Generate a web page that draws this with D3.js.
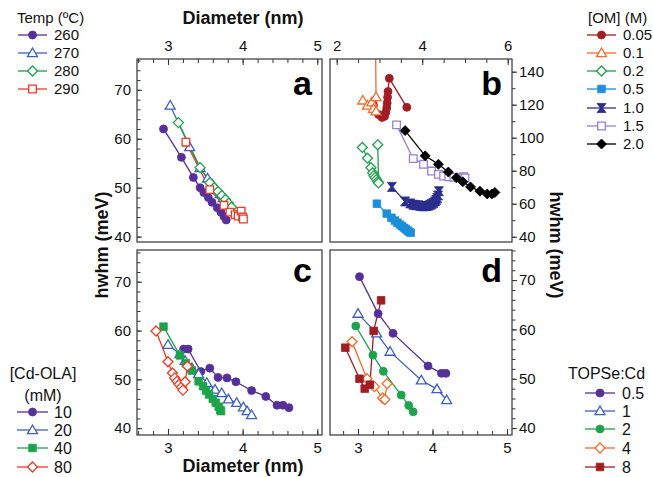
<!DOCTYPE html>
<html>
<head>
<meta charset="utf-8">
<script src="https://cdn.jsdelivr.net/npm/d3@7"></script>
<style>
  body { margin: 0; background: #fff; }
  svg { font-family: "Liberation Sans", Arial, Helvetica, sans-serif; }
</style>
</head>
<body>
<div id="chart"></div>
<script>
// ---------------------------------------------------------------------------
// Data: [diameter (nm), hwhm (meV)]
// ---------------------------------------------------------------------------
// Panel a - reaction temperature
const tempLabels = ['260', '270', '280', '290'];
const a260 = [[2.94,62.0],[3.18,56.2],[3.34,52.1],[3.43,50.0],[3.48,49.0],[3.54,48.0],[3.59,47.0],[3.66,45.9],[3.71,45.0],[3.75,44.1],[3.78,43.4]];
const a270 = [[3.03,66.8],[3.29,58.3],[3.43,54.0],[3.53,51.9],[3.59,50.7],[3.65,49.6],[3.70,48.7],[3.74,47.9],[3.79,47.1],[3.83,46.4]];
const a280 = [[3.14,63.3],[3.43,54.1],[3.56,51.0],[3.62,50.0],[3.67,49.2],[3.72,48.4],[3.77,47.6],[3.81,46.8],[3.85,46.0]];
const a290 = [[3.24,59.3],[3.56,49.6],[3.75,46.4],[3.83,45.0],[3.90,44.5],[3.94,44.2],[3.98,45.2],[4.00,44.0],[4.01,43.6]];

// Panel b - [OM] concentration (M)
const omLabels = ['0.05', '0.1', '0.2', '0.5', '1.0', '1.5', '2.0'];
const b005 = [[2.86,119.6],[2.98,114.0],[3.06,112.3],[3.12,113.0],[3.15,115.5],[3.17,118.0],[3.18,121.0],[3.19,124.5],[3.20,128.0],[3.23,136.0],[3.64,118.4]];
const b01 = [[2.61,122.6],[2.72,119.5],[2.82,121.5],[2.86,117.5],[2.92,116.0],[2.92,124.7],[2.91,152.0]];
const b02 = [[2.60,94.1],[2.72,87.6],[2.80,81.8],[2.84,78.8],[2.87,77.0],[2.90,75.8],[2.93,74.6],[2.96,73.4],[2.98,72.6],[2.96,95.7]];
const b05 = [[2.94,60.0],[3.17,54.0],[3.28,51.5],[3.36,49.8],[3.42,48.5],[3.48,47.3],[3.53,46.3],[3.58,45.3],[3.62,44.5],[3.66,43.7],[3.70,43.0],[3.73,42.4]];
const b10 = [[3.29,70.2],[3.60,61.4],[3.72,60.2],[3.79,59.4],[3.85,59.1],[3.91,59.0],[3.97,58.6],[4.03,58.4],[4.09,58.6],[4.14,58.8],[4.19,59.3],[4.22,59.8],[4.26,60.5],[4.30,61.4],[4.33,62.3],[4.35,63.4],[4.37,65.0],[4.39,67.6]];
const b15 = [[3.40,107.8],[3.79,87.3],[4.03,83.9],[4.22,79.8],[4.38,77.8],[4.50,76.8],[4.62,76.3],[4.74,76.0],[4.86,75.9],[4.97,76.3],[5.00,75.6]];
const b20 = [[3.60,104.3],[4.07,89.0],[4.38,83.9],[4.61,79.2],[4.80,75.7],[4.95,73.3],[5.13,70.2],[5.35,67.6],[5.52,65.9],[5.63,65.9],[5.70,66.8]];

// Panel c - [Cd-OLA] (mM)
const cdLabels = ['10', '20', '40', '80'];
const c10 = [[3.21,56.2],[3.27,56.2],[3.44,51.6],[3.56,52.3],[3.67,50.4],[3.79,50.3],[3.91,49.5],[4.12,47.7],[4.31,46.5],[4.46,44.7],[4.54,44.7],[4.62,44.2]];
const c20 = [[3.00,57.1],[3.16,55.2],[3.23,53.8],[3.32,52.3],[3.41,51.1],[3.52,49.3],[3.63,47.9],[3.72,47.2],[3.81,45.9],[3.92,45.2],[4.01,44.3],[4.06,43.5],[4.12,42.7]];
const c40 = [[2.94,60.8],[3.16,54.9],[3.24,53.3],[3.32,51.8],[3.41,49.6],[3.47,48.6],[3.51,47.7],[3.55,46.9],[3.60,46.0],[3.64,45.2],[3.68,44.4],[3.70,43.7],[3.71,43.5]];
const c80 = [[2.84,59.9],[3.00,53.6],[3.06,51.3],[3.09,50.3],[3.12,49.6],[3.15,49.0],[3.18,48.4],[3.20,47.8],[3.23,49.5],[3.26,52.7]];

// Panel d - TOPSe:Cd ratio
const seLabels = ['0.5', '1', '2', '4', '8'];
const d05 = [[3.02,70.7],[3.27,63.2],[3.47,59.2],[3.94,52.6],[4.12,51.1],[4.18,51.1]];
const d1 = [[3.00,63.2],[3.25,59.2],[3.43,55.5],[3.85,49.7],[4.06,47.9],[4.19,45.7]];
const d2 = [[2.97,60.7],[3.20,54.8],[3.34,51.5],[3.58,46.7],[3.68,44.6],[3.74,43.3]];
const d4 = [[2.92,57.5],[3.12,50.0],[3.22,48.4],[3.33,46.1],[3.36,45.8],[3.39,49.0]];
const d8 = [[2.83,56.3],[3.02,50.0],[3.09,48.0],[3.16,48.8],[3.21,59.7],[3.31,65.9]];

// ---------------------------------------------------------------------------
// Styles
// ---------------------------------------------------------------------------
const C = {
  purple: '#55309b', blue: '#3e5fc1', green: '#1da34b', red: '#ef3a25',
  darkred: '#a21d23', orange: '#f36b2a', lightblue: '#1b8fdb', navy: '#2b2e8e',
  lavender: '#9a80d0', black: '#000000'
};

const groups = {
  a: [
    { label: tempLabels[0], data: a260, color: C.purple, shape: 'circle', filled: true },
    { label: tempLabels[1], data: a270, color: C.blue, shape: 'triangle', filled: false },
    { label: tempLabels[2], data: a280, color: C.green, shape: 'diamond', filled: false },
    { label: tempLabels[3], data: a290, color: C.red, shape: 'square', filled: false }
  ],
  b: [
    { label: omLabels[0], data: b005, color: C.darkred, shape: 'circle', filled: true },
    { label: omLabels[1], data: b01, color: C.orange, shape: 'triangle', filled: false },
    { label: omLabels[2], data: b02, color: C.green, shape: 'diamond', filled: false },
    { label: omLabels[3], data: b05, color: C.lightblue, shape: 'square', filled: true },
    { label: omLabels[4], data: b10, color: C.navy, shape: 'hourglass', filled: true },
    { label: omLabels[5], data: b15, color: C.lavender, shape: 'square', filled: false },
    { label: omLabels[6], data: b20, color: C.black, shape: 'diamond', filled: true }
  ],
  c: [
    { label: cdLabels[0], data: c10, color: C.purple, shape: 'circle', filled: true },
    { label: cdLabels[1], data: c20, color: C.blue, shape: 'triangle', filled: false },
    { label: cdLabels[2], data: c40, color: C.green, shape: 'square', filled: true },
    { label: cdLabels[3], data: c80, color: C.red, shape: 'diamond', filled: false }
  ],
  d: [
    { label: seLabels[0], data: d05, color: C.purple, shape: 'circle', filled: true },
    { label: seLabels[1], data: d1, color: C.blue, shape: 'triangle', filled: false },
    { label: seLabels[2], data: d2, color: C.green, shape: 'circle', filled: true },
    { label: seLabels[3], data: d4, color: C.orange, shape: 'diamond', filled: false },
    { label: seLabels[4], data: d8, color: C.darkred, shape: 'square', filled: true }
  ]
};

// panel boxes (pixels), domains and which sides carry axes
const panels = [
  { id: 'a', box: [137, 322, 59, 242], x: [2.585, 5.063], y: [38.9, 76.3], xSide: 'top', ySide: 'left',
    xMajor: [3, 4, 5], xMinorStep: 0.2, yMajor: [40, 50, 60, 70], yMinorStep: 2 },
  { id: 'b', box: [330, 512, 59, 242], x: [1.843, 6.1], y: [36.8, 147.7], xSide: 'top', ySide: 'right',
    xMajor: [2, 4, 6], xMinorStep: 0.5, yMajor: [40, 60, 80, 100, 120, 140], yMinorStep: 10 },
  { id: 'c', box: [137, 322, 250, 435], x: [2.585, 5.063], y: [38.6, 76.5], xSide: 'bottom', ySide: 'left',
    xMajor: [3, 4, 5], xMinorStep: 0.2, yMajor: [40, 50, 60, 70], yMinorStep: 2 },
  { id: 'd', box: [330, 512, 250, 435], x: [2.624, 5.067], y: [38.6, 76.1], xSide: 'bottom', ySide: 'right',
    xMajor: [3, 4, 5], xMinorStep: 0.2, yMajor: [40, 50, 60, 70], yMinorStep: 2 }
];

function markerPath(shape) {
  switch (shape) {
    case 'circle': { const r = 4; return `M${r},0A${r},${r} 0 1,1 ${-r},0A${r},${r} 0 1,1 ${r},0Z`; }
    case 'triangle': return 'M0,-5L5,3.6L-5,3.6Z';
    case 'square': return 'M-3.8,-3.8H3.8V3.8H-3.8Z';
    case 'diamond': return 'M0,-5L5,0L0,5L-5,0Z';
    case 'hourglass': return 'M-4.5,-4.5H4.5L1,0L4.5,4.5H-4.5L-1,0Z';
  }
}

// ---------------------------------------------------------------------------
// Drawing
// ---------------------------------------------------------------------------
const W = 653, H = 477;
const svg = d3.select('#chart').append('svg').attr('width', W).attr('height', H);
const defs = svg.append('defs');

function minorTicks(domain, step) {
  const lo = Math.ceil(domain[0] / step - 1e-6), hi = Math.floor(domain[1] / step + 1e-6);
  return d3.range(lo, hi + 1).map(i => +(i * step).toFixed(3));
}

panels.forEach(p => {
  const [x0, x1, y0, y1] = p.box;
  const x = d3.scaleLinear().domain(p.x).range([x0, x1]);
  const y = d3.scaleLinear().domain(p.y).range([y1, y0]);
  const g = svg.append('g');

  // x axis (inward ticks)
  const xAxisFn = p.xSide === 'top' ? d3.axisTop : d3.axisBottom;
  const xPos = p.xSide === 'top' ? y0 : y1;
  const gxMinor = g.append('g').attr('transform', `translate(0,${xPos})`)
    .call(xAxisFn(x).tickValues(minorTicks(p.x, p.xMinorStep)).tickSize(-4).tickFormat(''));
  const gx = g.append('g').attr('transform', `translate(0,${xPos})`)
    .call(xAxisFn(x).tickValues(p.xMajor).tickSize(-6).tickPadding(p.xSide === 'top' ? 8 : 7).tickFormat(d3.format('d')));

  // y axis: left axes inward, right axes outward
  let gy, gyMinor;
  if (p.ySide === 'left') {
    gyMinor = g.append('g').attr('transform', `translate(${x0},0)`)
      .call(d3.axisLeft(y).tickValues(minorTicks(p.y, p.yMinorStep)).tickSize(-3.5).tickFormat(''));
    gy = g.append('g').attr('transform', `translate(${x0},0)`)
      .call(d3.axisLeft(y).tickValues(p.yMajor).tickSize(-5).tickPadding(6));
  } else {
    gyMinor = g.append('g').attr('transform', `translate(${x1},0)`)
      .call(d3.axisRight(y).tickValues(minorTicks(p.y, p.yMinorStep)).tickSize(3.5).tickFormat(''));
    gy = g.append('g').attr('transform', `translate(${x1},0)`)
      .call(d3.axisRight(y).tickValues(p.yMajor).tickSize(5).tickPadding(2));
  }
  [gx, gxMinor, gy, gyMinor].forEach(a => {
    a.select('.domain').remove();
    a.selectAll('line').attr('stroke', '#333').attr('stroke-width', 1);
    a.selectAll('text').attr('fill', '#111').style('font-size', '15px')
      .style('font-family', '"Liberation Sans", Arial, sans-serif');
  });

  // clip region for data
  defs.append('clipPath').attr('id', 'clip-' + p.id)
    .append('rect').attr('x', x0).attr('y', y0).attr('width', x1 - x0).attr('height', y1 - y0);

  const plot = g.append('g').attr('clip-path', `url(#clip-${p.id})`);
  const line = d3.line().x(d => x(d[0])).y(d => y(d[1]));

  groups[p.id].forEach(s => {
    plot.append('path').datum(s.data)
      .attr('fill', 'none').attr('stroke', s.color).attr('stroke-width', 1.3).attr('d', line);
  });
  groups[p.id].forEach(s => {
    plot.selectAll(null).data(s.data).enter().append('path')
      .attr('transform', d => `translate(${x(d[0])},${y(d[1])})`)
      .attr('d', markerPath(s.shape))
      .attr('fill', s.filled ? s.color : '#fff')
      .attr('stroke', s.color).attr('stroke-width', s.filled ? 0.8 : 1.3);
  });

  // frame
  g.append('rect').attr('x', x0).attr('y', y0).attr('width', x1 - x0).attr('height', y1 - y0)
    .attr('fill', 'none').attr('stroke', '#444').attr('stroke-width', 1.3);

  // panel letter
  g.append('text').attr('x', x1 - 10).attr('y', y0 + (p.xSide === 'top' ? 36 : 32))
    .attr('text-anchor', 'end').style('font-size', '34px').style('font-weight', 'bold')
    .text(p.id);
});

// axis titles
const titleStyle = sel => sel.style('font-size', '18px').style('font-weight', 'bold').attr('fill', '#111');
svg.append('text').attr('x', 243).attr('y', 24).attr('text-anchor', 'middle').call(titleStyle).text('Diameter (nm)');
svg.append('text').attr('x', 243).attr('y', 472).attr('text-anchor', 'middle').call(titleStyle).text('Diameter (nm)');
svg.append('text').attr('transform', 'translate(108,245) rotate(-90)').attr('text-anchor', 'middle').call(titleStyle).text('hwhm (meV)');
svg.append('text').attr('transform', 'translate(550,245) rotate(90)').attr('text-anchor', 'middle').call(titleStyle).text('hwhm (meV)');

// legends
function legend(titleLines, series, lx0, lx1, labelX, rowY, fontSize) {
  const g = svg.append('g').style('font-size', fontSize + 'px');
  titleLines.forEach(t => {
    g.append('text').attr('x', t.x).attr('y', t.y).attr('text-anchor', t.anchor || 'start')
      .attr('fill', '#111').text(t.text);
  });
  series.forEach((s, i) => {
    const cy = rowY[i];
    g.append('line').attr('x1', lx0).attr('x2', lx1).attr('y1', cy).attr('y2', cy)
      .attr('stroke', s.color).attr('stroke-width', 1.3);
    g.append('path').attr('transform', `translate(${(lx0 + lx1) / 2},${cy})`)
      .attr('d', markerPath(s.shape))
      .attr('fill', s.filled ? s.color : '#fff')
      .attr('stroke', s.color).attr('stroke-width', s.filled ? 0.8 : 1.3);
    g.append('text').attr('x', labelX).attr('y', cy + fontSize * 0.36).attr('fill', '#111').text(s.label);
  });
}

legend([{ text: 'Temp (\u00baC)', x: 17, y: 23 }], groups.a, 18, 47, 54, [35, 53, 71, 89], 15);
legend([{ text: '[OM] (M)', x: 588, y: 23 }], groups.b, 587, 616, 623, [35, 53, 71, 89, 108, 126, 144], 15);
legend([{ text: '[Cd-OLA]', x: 43, y: 379, anchor: 'middle' }, { text: '(mM)', x: 43, y: 401, anchor: 'middle' }],
  groups.c, 17, 48, 54, [412, 430, 448, 467], 16);
legend([{ text: 'TOPSe:Cd', x: 568, y: 379 }], groups.d, 585, 615, 622, [393, 411, 429, 448, 467], 16);
</script>
</body>
</html>
